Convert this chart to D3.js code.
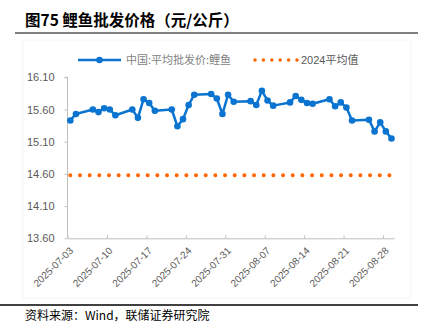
<!DOCTYPE html>
<html><head><meta charset="utf-8">
<script src="https://cdn.jsdelivr.net/npm/d3@7"></script>
<style>
html,body{margin:0;padding:0;background:#fff;}
svg{display:block;font-family:"Liberation Sans","Noto Sans CJK SC",sans-serif;}
</style></head><body>
<svg id="c" width="423" height="335"></svg>
<script>
const title = "图75 鲤鱼批发价格（元/公斤）";
const source = "资料来源：Wind，联储证券研究院";
const seriesName = "中国:平均批发价:鲤鱼";
const avgName = "2024平均值";
const dates = ["2025-07-03","2025-07-04","2025-07-07","2025-07-08","2025-07-09","2025-07-10","2025-07-11",
"2025-07-14","2025-07-15","2025-07-16","2025-07-17","2025-07-18","2025-07-21","2025-07-22","2025-07-23",
"2025-07-24","2025-07-25","2025-07-28","2025-07-29","2025-07-30","2025-07-31","2025-08-01","2025-08-04",
"2025-08-05","2025-08-06","2025-08-07","2025-08-08","2025-08-11","2025-08-12","2025-08-13","2025-08-14",
"2025-08-15","2025-08-18","2025-08-19","2025-08-20","2025-08-21","2025-08-22","2025-08-25","2025-08-26",
"2025-08-27","2025-08-28","2025-08-29"];
const prices = [15.43,15.53,15.60,15.56,15.62,15.60,15.51,15.60,15.47,15.76,15.70,15.58,15.60,15.34,15.45,
15.67,15.83,15.84,15.77,15.53,15.83,15.72,15.73,15.67,15.89,15.74,15.66,15.71,15.81,15.75,15.70,15.69,
15.76,15.65,15.71,15.63,15.43,15.44,15.26,15.40,15.26,15.15];
const avg2024 = 14.58;
const yTicks = [13.60,14.10,14.60,15.10,15.60,16.10];
const xTickLabels = ["2025-07-03","2025-07-10","2025-07-17","2025-07-24","2025-07-31","2025-08-07","2025-08-14","2025-08-21","2025-08-28"];

const parse = d3.utcParse("%Y-%m-%d");
const DAY = 864e5;
const svg = d3.select("#c");

// title
svg.append("text").attr("x",25).attr("y",26).attr("font-size",15.5).attr("font-weight","bold")
  .attr("fill","#000").attr("font-family","'Noto Sans CJK SC',sans-serif").text(title);
svg.append("line").attr("x1",15).attr("x2",418).attr("y1",33).attr("y2",33).attr("stroke","#7f7f7f").attr("stroke-width",2);

// chart area faint border
svg.append("rect").attr("x",23).attr("y",40).attr("width",388).attr("height",258)
  .attr("fill","none").attr("stroke","#f6f6f6").attr("stroke-width",1);

const x0 = parse(dates[0]), x1 = new Date(+parse(dates[dates.length-1]) + DAY);
const x = d3.scaleUtc().domain([x0, x1]).range([67.5, 394.3]);
const y = d3.scaleLinear().domain([13.6, 16.1]).range([238.3, 77.3]);
const half = (x(new Date(+x0 + DAY)) - x(x0)) / 2;

// y axis
const ya = svg.append("g").attr("transform","translate(67.5,0)")
  .call(d3.axisLeft(y).tickValues(yTicks).tickSize(3).tickPadding(10).tickFormat(d3.format(".2f")));
ya.select(".domain").attr("stroke","#bfbfbf").attr("d", `M-3,${y(16.1)}H0V${y(13.6)}`);
ya.selectAll(".tick line").attr("stroke","#bfbfbf");
ya.selectAll(".tick text").attr("fill","#595959").attr("font-size",11).attr("font-family","'Liberation Sans',sans-serif");

// x axis
const xa = svg.append("g").attr("transform",`translate(0,${y(13.6)})`)
  .call(d3.axisBottom(x).tickValues(xTickLabels.map(parse)).tickSize(-3).tickSizeOuter(0).tickFormat(d3.utcFormat("%Y-%m-%d")));
xa.select(".domain").attr("stroke","#bfbfbf");
xa.selectAll(".tick line").attr("stroke","#bfbfbf");
xa.selectAll(".tick text").attr("fill","#595959").attr("font-size",10).attr("font-family","'Liberation Sans',sans-serif")
  .attr("text-anchor","end").attr("dy",null).attr("y",null)
  .attr("transform",`translate(${half+3},13) rotate(-45)`);

// 2024 average dotted line
svg.append("path").datum([dates[0], dates[dates.length-1]])
  .attr("d", d3.line().x(d => x(new Date(+parse(d) + DAY/2))).y(() => y(avg2024)))
  .attr("stroke","#ff6600").attr("stroke-width",4).attr("stroke-linecap","round")
  .attr("stroke-dasharray","0 9.67").attr("fill","none");

// series
const pts = dates.map((d,i) => ({t: new Date(+parse(d) + DAY/2), v: prices[i]}));
svg.append("path").datum(pts)
  .attr("d", d3.line().x(d => x(d.t)).y(d => y(d.v)))
  .attr("fill","none").attr("stroke","#0a74d0").attr("stroke-width",2.5).attr("stroke-linejoin","round");
svg.append("g").selectAll("circle").data(pts).join("circle")
  .attr("cx", d => x(d.t)).attr("cy", d => y(d.v)).attr("r",3.3).attr("fill","#0a74d0");

// legend
const lg = svg.append("g").attr("font-size",11).attr("fill","#595959");
lg.append("line").attr("x1",78).attr("x2",121).attr("y1",60).attr("y2",60).attr("stroke","#0a74d0").attr("stroke-width",2.5);
lg.append("circle").attr("cx",99.5).attr("cy",60).attr("r",3.3).attr("fill","#0a74d0");
lg.append("text").attr("x",126).attr("y",64).attr("fill","#7f7f7f").attr("font-family","'Noto Sans CJK SC',sans-serif").text(seriesName);
lg.append("line").attr("x1",255).attr("x2",297).attr("y1",60).attr("y2",60).attr("stroke","#ff6600").attr("stroke-width",3.5)
  .attr("stroke-linecap","round").attr("stroke-dasharray","0 8.4");
lg.append("text").attr("x",301).attr("y",64).attr("fill","#595959").attr("font-family","'Liberation Sans','Noto Sans CJK SC',sans-serif").text(avgName);

// footer
svg.append("line").attr("x1",0).attr("x2",418).attr("y1",305).attr("y2",305).attr("stroke","#000").attr("stroke-width",1.5);
svg.append("text").attr("x",25).attr("y",320).attr("font-size",12).attr("fill","#000")
  .attr("font-family","'Noto Sans CJK SC',sans-serif").text(source);
</script></body></html>
